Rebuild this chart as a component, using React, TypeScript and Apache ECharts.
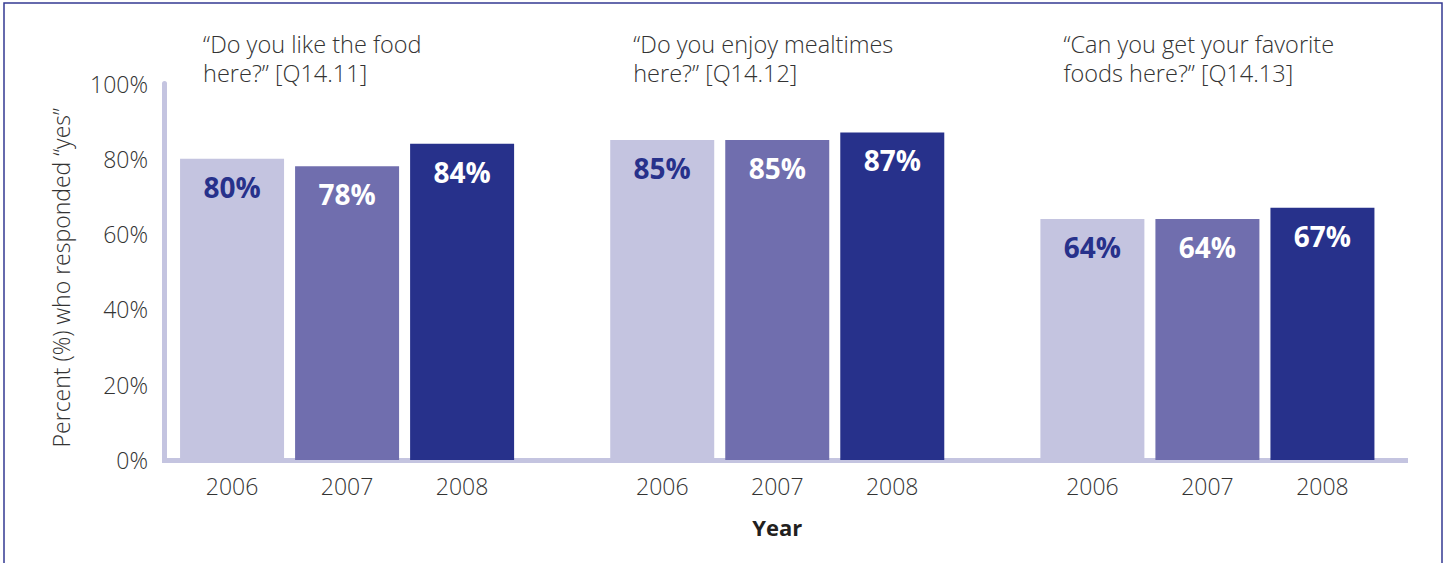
import React, { useEffect, useRef } from "react";
import * as echarts from "echarts";

const questions = [
  "“Do you like the food\nhere?” [Q14.11]",
  "“Do you enjoy mealtimes\nhere?” [Q14.12]",
  "“Can you get your favorite\nfoods here?” [Q14.13]",
];
const years = ["2006", "2007", "2008"];
const values2006 = [80, 85, 64];
const values2007 = [78, 85, 64];
const values2008 = [84, 87, 67];
const yTicks = [0, 20, 40, 60, 80, 100];

const colors = ["#c4c4e0", "#706eae", "#27318b"];
const labelColors = ["#27318b", "#ffffff", "#ffffff"];
const FONT = "'Open Sans', sans-serif";

export default function App() {
  const ref = useRef<HTMLDivElement>(null);
  useEffect(() => {
    if (!ref.current) return;
    const chart = echarts.init(ref.current, null, { renderer: "svg" });
    const seriesValues = [values2006, values2007, values2008];
    chart.setOption({
      animation: false,
      textStyle: { fontFamily: FONT },
      graphic: [
        {
          type: "rect",
          shape: { x: 4, y: 3, width: 1438, height: 600 },
          style: { fill: "none", stroke: "#343a92", lineWidth: 1.5 },
          silent: true,
        },
      ],
      grid: [
        { left: 132, right: 22.5, top: 83.5, bottom: 103 },
        { left: 164.5, right: 39.5, top: 83.5, bottom: 103 },
      ],
      xAxis: [
        {
          type: "category",
          gridIndex: 0,
          position: "bottom",
          data: questions,
          axisLine: { show: false },
          axisTick: { show: false },
          splitLine: { show: false },
          name: "Year",
          nameLocation: "middle",
          nameGap: 56,
          nameTextStyle: {
            fontFamily: FONT,
            fontSize: 22,
            fontWeight: "bold",
            color: "#231f20",
          },
          axisLabel: {
            margin: 14,
            interval: 0,
            formatter: () => years.map((y) => `{y|${y}}`).join(""),
            rich: {
              y: {
                width: 115,
                align: "center",
                fontFamily: FONT,
                fontSize: 23,
                fontWeight: 300,
                lineHeight: 24,
                color: "#333333",
              },
            },
          },
        },
        {
          type: "category",
          gridIndex: 0,
          position: "top",
          data: questions,
          axisLine: { show: false },
          axisTick: { show: false },
          axisLabel: {
            margin: -4.5,
            interval: 0,
            formatter: (v: string) => `{q|${v.replace("\n", "}\n{q|")}}`,
            rich: {
              q: {
                width: 288,
                align: "left",
                fontFamily: FONT,
                fontSize: 23.5,
                fontWeight: 300,
                lineHeight: 29.5,
                color: "#333333",
              },
            },
          },
        },
        {
          type: "value",
          gridIndex: 1,
          min: 0,
          max: 1,
          offset: 3,
          axisLine: {
            show: true,
            lineStyle: { color: "#c4c4e0", width: 5, cap: "square" },
          },
          axisTick: { show: false },
          axisLabel: { show: false },
          splitLine: { show: false },
        },
      ],
      yAxis: [
        {
          type: "value",
          gridIndex: 0,
          min: 0,
          max: 100,
          interval: 20,
          show: false,
        },
        {
          type: "value",
          gridIndex: 1,
          min: yTicks[0],
          max: yTicks[yTicks.length - 1],
          interval: yTicks[1] - yTicks[0],
          axisLine: { show: true, lineStyle: { color: "#c4c4e0", width: 5 } },
          axisTick: { show: false },
          splitLine: { show: false },
          axisLabel: {
            margin: 16.5,
            formatter: "{value}%",
            fontFamily: FONT,
            fontSize: 23,
            fontWeight: 300,
            color: "#333333",
          },
          name: "Percent (%) who responded “yes”",
          nameLocation: "middle",
          nameRotate: 90,
          nameGap: 92,
          nameTextStyle: {
            fontFamily: FONT,
            fontSize: 23,
            fontWeight: 300,
            color: "#333333",
            padding: [0, 12, 0, 0],
          },
        },
      ],
      series: years.map((y, i) => ({
        name: y,
        type: "bar",
        xAxisIndex: 0,
        yAxisIndex: 0,
        data: seriesValues[i],
        barWidth: 104,
        barGap: "10.6%",
        itemStyle: { color: colors[i] },
        label: {
          show: true,
          position: "insideTop",
          distance: 14,
          formatter: "{c}%",
          fontFamily: FONT,
          fontSize: 28,
          fontWeight: "bold",
          color: labelColors[i],
        },
      })),
    });
    return () => chart.dispose();
  }, []);
  return (
    <div
      ref={ref}
      style={{ position: "fixed", left: 0, top: 0, width: 1445, height: 563, background: "#fff" }}
    />
  );
}
